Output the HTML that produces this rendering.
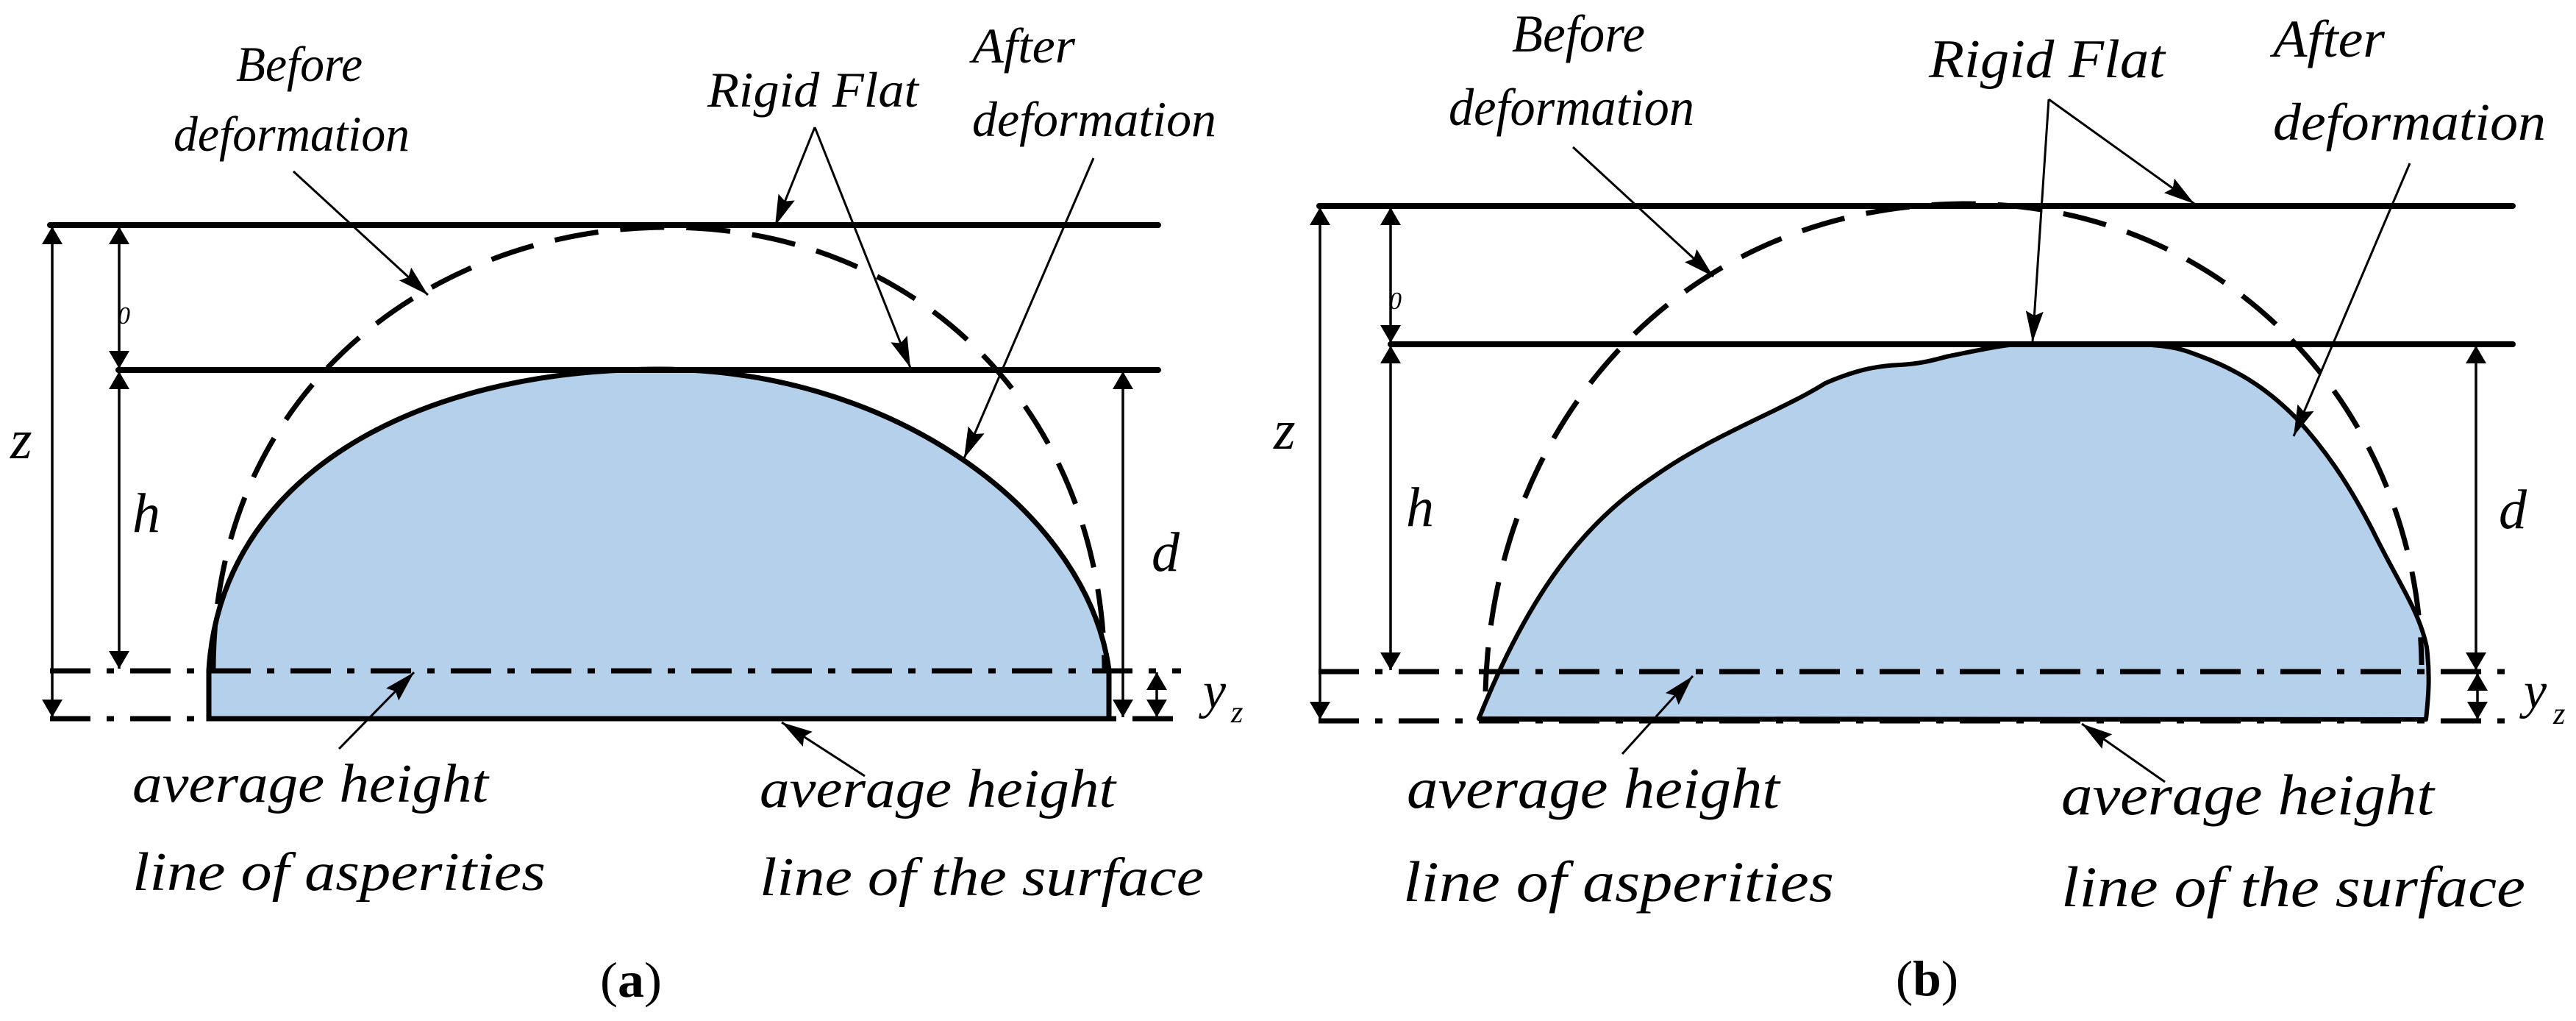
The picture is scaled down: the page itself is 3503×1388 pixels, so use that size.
<!DOCTYPE html>
<html><head><meta charset="utf-8"><style>html,body{margin:0;padding:0;background:#fff}svg{display:block}
text{font-family:"Liberation Serif","Times New Roman",serif;font-style:italic}
.up{font-style:normal}</style></head>
<body>
<svg width="3503" height="1388" viewBox="0 0 3503 1388" xmlns="http://www.w3.org/2000/svg">
<defs>
<marker id="dm" markerUnits="userSpaceOnUse" markerWidth="26" markerHeight="28" refX="24" refY="14" orient="auto-start-reverse"><path d="M0,0 L24,14 L0,28 z" fill="#000"/></marker>
<marker id="lm" markerUnits="userSpaceOnUse" markerWidth="44" markerHeight="28" refX="42" refY="14" orient="auto"><path d="M0,2 L42,14 L0,26 L6,14 z" fill="#000"/></marker>
</defs>
<g fill="#000">

<!-- ===== Panel (a) ===== -->
<path d="M284,977 L284,911 C300,650 560,502 896,502 C1220,502 1480,700 1508,911 L1508,977 Z" fill="#b5d0ea" stroke="#000" stroke-width="7"/>
<path d="M290,911 C290,520 600,309 907,309 C1250,309 1500,560 1502,911" fill="none" stroke="#000" stroke-width="7" stroke-dasharray="60,30"/>
<line x1="68" y1="306" x2="1575" y2="306" stroke="#000" stroke-width="8" stroke-linecap="round"/>
<line x1="161" y1="503" x2="1575" y2="503" stroke="#000" stroke-width="8" stroke-linecap="round"/>
<line x1="68" y1="912" x2="1606" y2="912" stroke="#000" stroke-width="7" stroke-dasharray="55,22,10,22"/>
<line x1="68" y1="977" x2="284" y2="977" stroke="#000" stroke-width="7" stroke-dasharray="55,22,10,22"/>
<line x1="1508" y1="977" x2="1606" y2="977" stroke="#000" stroke-width="7" stroke-dasharray="10,22,55,22"/>
<line x1="71" y1="308" x2="71" y2="975" stroke="#000" stroke-width="3.5" marker-start="url(#dm)" marker-end="url(#dm)"/>
<line x1="162" y1="308" x2="162" y2="501" stroke="#000" stroke-width="3.5" marker-start="url(#dm)" marker-end="url(#dm)"/>
<line x1="162" y1="505" x2="162" y2="909" stroke="#000" stroke-width="3.5" marker-start="url(#dm)" marker-end="url(#dm)"/>
<line x1="1527" y1="505" x2="1527" y2="975" stroke="#000" stroke-width="3.5" marker-start="url(#dm)" marker-end="url(#dm)"/>
<line x1="1573" y1="914" x2="1573" y2="975" stroke="#000" stroke-width="3.5" marker-start="url(#dm)" marker-end="url(#dm)"/>
<line x1="399" y1="233" x2="582" y2="401" stroke="#000" stroke-width="3" marker-end="url(#lm)"/>
<line x1="1108" y1="173" x2="1054" y2="307" stroke="#000" stroke-width="3" marker-end="url(#lm)"/>
<line x1="1108" y1="173" x2="1238" y2="500" stroke="#000" stroke-width="3" marker-end="url(#lm)"/>
<line x1="1487" y1="215" x2="1311" y2="623" stroke="#000" stroke-width="3" marker-end="url(#lm)"/>
<line x1="461" y1="1018" x2="563" y2="914" stroke="#000" stroke-width="3" marker-end="url(#lm)"/>
<line x1="1176" y1="1055" x2="1063" y2="982" stroke="#000" stroke-width="3" marker-end="url(#lm)"/>
<text x="321" y="110" font-size="68" textLength="172" lengthAdjust="spacingAndGlyphs">Before</text>
<text x="236" y="205" font-size="68" textLength="321" lengthAdjust="spacingAndGlyphs">deformation</text>
<text x="962" y="145" font-size="68" textLength="287" lengthAdjust="spacingAndGlyphs">Rigid Flat</text>
<text x="1322" y="85" font-size="68" textLength="140" lengthAdjust="spacingAndGlyphs">After</text>
<text x="1322" y="185" font-size="68" textLength="332" lengthAdjust="spacingAndGlyphs">deformation</text>
<text x="180" y="1090" font-size="74" textLength="484" lengthAdjust="spacingAndGlyphs">average height</text>
<text x="180" y="1210" font-size="74" textLength="562" lengthAdjust="spacingAndGlyphs">line of  asperities</text>
<text x="1033" y="1097" font-size="74" textLength="484" lengthAdjust="spacingAndGlyphs">average height</text>
<text x="1033" y="1217" font-size="74" textLength="604" lengthAdjust="spacingAndGlyphs">line of  the surface</text>
<text x="14" y="623" font-size="76">z</text>
<text x="180" y="723" font-size="76">h</text>
<text x="1566" y="776" font-size="76">d</text>
<text x="1636" y="962" font-size="70">y</text><text x="1674" y="982" font-size="42">z</text>
<text x="160" y="440" font-size="34">0</text>
<text class="up" x="816" y="1355" font-size="68" textLength="84" lengthAdjust="spacingAndGlyphs">(<tspan font-weight="bold">a</tspan>)</text>

<!-- ===== Panel (b) ===== -->
<path d="M2011,977 C2070,830 2140,720 2246,650 C2330,590 2420,560 2482,521 C2530,500 2560,497 2584,496 C2620,494 2640,486 2651,484 C2700,474 2720,470 2741,468 L2910,468 C2960,470 2975,478 2989,483 C3050,505 3090,535 3124,570 C3170,620 3200,670 3226,720 C3260,790 3290,830 3300,880 C3305,920 3302,950 3299,978 Z" fill="#b5d0ea" stroke="#000" stroke-width="6" stroke-linejoin="round"/>
<path d="M2020,940 C2030,560 2300,277 2674,277 C3030,277 3290,560 3293,904" fill="none" stroke="#000" stroke-width="7" stroke-dasharray="60,30"/>
<line x1="1794" y1="280" x2="3417" y2="280" stroke="#000" stroke-width="8" stroke-linecap="round"/>
<line x1="1891" y1="468" x2="3417" y2="468" stroke="#000" stroke-width="8" stroke-linecap="round"/>
<line x1="1793" y1="913" x2="3406" y2="913" stroke="#000" stroke-width="7" stroke-dasharray="55,22,10,22"/>
<line x1="1793" y1="980" x2="3406" y2="980" stroke="#000" stroke-width="7" stroke-dasharray="55,22,10,22"/>
<line x1="2011" y1="978" x2="3299" y2="978" stroke="#000" stroke-width="6"/>
<line x1="1795" y1="282" x2="1795" y2="978" stroke="#000" stroke-width="3.5" marker-start="url(#dm)" marker-end="url(#dm)"/>
<line x1="1891" y1="282" x2="1891" y2="466" stroke="#000" stroke-width="3.5" marker-start="url(#dm)" marker-end="url(#dm)"/>
<line x1="1891" y1="470" x2="1891" y2="911" stroke="#000" stroke-width="3.5" marker-start="url(#dm)" marker-end="url(#dm)"/>
<line x1="3367" y1="470" x2="3367" y2="911" stroke="#000" stroke-width="3.5" marker-start="url(#dm)" marker-end="url(#dm)"/>
<line x1="3369" y1="915" x2="3369" y2="978" stroke="#000" stroke-width="3.5" marker-start="url(#dm)" marker-end="url(#dm)"/>
<line x1="2139" y1="200" x2="2330" y2="376" stroke="#000" stroke-width="3" marker-end="url(#lm)"/>
<line x1="2786" y1="135" x2="2764" y2="465" stroke="#000" stroke-width="3" marker-end="url(#lm)"/>
<line x1="2786" y1="135" x2="2984" y2="277" stroke="#000" stroke-width="3" marker-end="url(#lm)"/>
<line x1="3277" y1="222" x2="3119" y2="593" stroke="#000" stroke-width="3" marker-end="url(#lm)"/>
<line x1="2206" y1="1025" x2="2302" y2="919" stroke="#000" stroke-width="3" marker-end="url(#lm)"/>
<line x1="2944" y1="1063" x2="2831" y2="984" stroke="#000" stroke-width="3" marker-end="url(#lm)"/>
<text x="2056" y="70" font-size="72" textLength="181" lengthAdjust="spacingAndGlyphs">Before</text>
<text x="1970" y="170" font-size="72" textLength="334" lengthAdjust="spacingAndGlyphs">deformation</text>
<text x="2623" y="105" font-size="74" textLength="321" lengthAdjust="spacingAndGlyphs">Rigid Flat</text>
<text x="3091" y="77" font-size="72" textLength="152" lengthAdjust="spacingAndGlyphs">After</text>
<text x="3091" y="190" font-size="72" textLength="371" lengthAdjust="spacingAndGlyphs">deformation</text>
<text x="1913" y="1098" font-size="78" textLength="507" lengthAdjust="spacingAndGlyphs">average height</text>
<text x="1908" y="1225" font-size="78" textLength="586" lengthAdjust="spacingAndGlyphs">line of  asperities</text>
<text x="2803" y="1107" font-size="78" textLength="507" lengthAdjust="spacingAndGlyphs">average height</text>
<text x="2803" y="1232" font-size="78" textLength="631" lengthAdjust="spacingAndGlyphs">line of  the surface</text>
<text x="1732" y="610" font-size="76">z</text>
<text x="1912" y="715" font-size="76">h</text>
<text x="3398" y="718" font-size="76">d</text>
<text x="3432" y="962" font-size="70">y</text><text x="3472" y="984" font-size="42">z</text>
<text x="1889" y="420" font-size="34">0</text>
<text class="up" x="2578" y="1353" font-size="68" textLength="85" lengthAdjust="spacingAndGlyphs">(<tspan font-weight="bold">b</tspan>)</text>
</g>
</svg>
</body></html>
